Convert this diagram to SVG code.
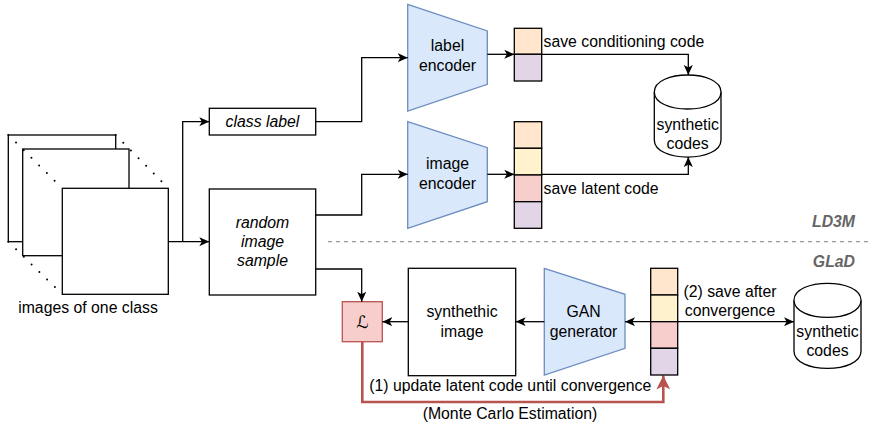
<svg xmlns="http://www.w3.org/2000/svg" width="870" height="425" viewBox="0 0 870 425">
  <style>
    text { font-family: "Liberation Sans", Arial, Helvetica, sans-serif; font-size: 15.8px; fill: #000; }
    .mid { text-anchor: middle; }
    .it { font-style: italic; }
    .tag { font-weight: bold; font-style: italic; fill: #666666; text-anchor: end; }
    .box { fill: #ffffff; stroke: #000; stroke-width: 1.3; }
    .enc { fill: #dae8fc; stroke: #6c8ebf; stroke-width: 1.3; }
    .cell { stroke: #000; stroke-width: 1.3; }
    .c1 { fill: #ffe6cc; }
    .c2 { fill: #fff2cc; }
    .c3 { fill: #f8cecc; }
    .c4 { fill: #e1d5e7; }
    .cyl { fill: #ffffff; stroke: #000; stroke-width: 1.3; }
    .edge { fill: none; stroke: #000; stroke-width: 1.3; }
    .edge-red { fill: none; stroke: #b85450; stroke-width: 2.6; }
    .dots { fill: none; stroke: #000; stroke-width: 2; stroke-linecap: round; stroke-dasharray: 0 10.84; }
  </style>
  <defs>
    <marker id="ah" viewBox="0 0 10 9" refX="10" refY="4.5" markerWidth="10" markerHeight="9" markerUnits="userSpaceOnUse" orient="auto-start-reverse">
      <path d="M0,0 L10,4.5 L0,9 L2.6,4.5 z" fill="#000"/>
    </marker>
    <marker id="ah-red" viewBox="0 0 14 14" refX="14" refY="7" markerWidth="14" markerHeight="14" markerUnits="userSpaceOnUse" orient="auto">
      <path d="M0,0 L14,7 L0,14 L3.6,7 z" fill="#b85450"/>
    </marker>
  </defs>

  <!-- stack of input images -->
  <g id="images">
    <rect class="box" x="8.3" y="135" width="107.4" height="106.7"/>
    <rect class="box" x="22.7" y="149" width="106.3" height="106.7"/>
    <rect class="box" x="62.3" y="188.3" width="106" height="106"/>
    <line class="dots" x1="8.3" y1="135" x2="62.3" y2="188.3"/>
    <line class="dots" x1="115.7" y1="135" x2="168.3" y2="188.3"/>
    <line class="dots" x1="8.3" y1="241.7" x2="62.3" y2="294.3"/>
    <text class="mid" x="88" y="313">images of one class</text>
  </g>

  <g id="class-label">
    <rect class="box" x="209.3" y="108.3" width="106.4" height="26.7"/>
    <text class="mid it" x="262.5" y="127">class label</text>
  </g>

  <g id="random-sample">
    <rect class="box" x="209.3" y="189" width="106.4" height="106"/>
    <text class="mid it" x="262.5" y="228">random</text>
    <text class="mid it" x="262.5" y="247">image</text>
    <text class="mid it" x="262.5" y="266">sample</text>
  </g>

  <g id="label-encoder">
    <path class="enc" d="M407.7,4.3 L487.3,31 L487.3,84.3 L407.7,111 Z"/>
    <text class="mid" x="447.5" y="50.5">label</text>
    <text class="mid" x="447.5" y="70.5">encoder</text>
  </g>

  <g id="image-encoder">
    <path class="enc" d="M407.7,121.7 L487.3,147.7 L487.3,201.7 L407.7,228.3 Z"/>
    <text class="mid" x="447.5" y="169">image</text>
    <text class="mid" x="447.5" y="189">encoder</text>
  </g>

  <g id="conditioning-code">
    <rect class="cell c1" x="514.3" y="28.3" width="27.4" height="26"/>
    <rect class="cell c4" x="514.3" y="54.3" width="27.4" height="26.7"/>
  </g>

  <g id="latent-code">
    <rect class="cell c1" x="514.3" y="121.7" width="27.4" height="26.6"/>
    <rect class="cell c2" x="514.3" y="148.3" width="27.4" height="26.7"/>
    <rect class="cell c3" x="514.3" y="175" width="27.4" height="26.7"/>
    <rect class="cell c4" x="514.3" y="201.7" width="27.4" height="26.6"/>
  </g>

  <g id="codes-ld3m">
    <path class="cyl" d="M654.3,92 C654.3,69.3 721,69.3 721,92 L721,140 C721,162.7 654.3,162.7 654.3,140 Z"/>
    <path class="cyl" d="M654.3,92 C654.3,114.7 721,114.7 721,92" fill="none"/>
    <text class="mid" x="687.7" y="130">synthetic</text>
    <text class="mid" x="687.7" y="149">codes</text>
  </g>

  <g id="loss">
    <rect x="342.3" y="301.7" width="40" height="40" fill="#f8cecc" stroke="#b85450" stroke-width="1.3"/>
    <text x="362.3" y="327.5" text-anchor="middle" style="font-family: 'DejaVu Serif', 'DejaVu Sans', serif; font-size: 17px;">ℒ</text>
  </g>

  <g id="synthetic-image">
    <rect class="box" x="408.3" y="268.3" width="107.4" height="107.4"/>
    <text class="mid" x="462" y="316.5">synthethic</text>
    <text class="mid" x="462" y="336.5">image</text>
  </g>

  <g id="gan-generator">
    <path class="enc" d="M544.3,268.3 L625,294.3 L625,348.3 L544.3,375 Z"/>
    <text class="mid" x="583.5" y="317">GAN</text>
    <text class="mid" x="583.5" y="337">generator</text>
  </g>

  <g id="connectors">
    <path class="edge" d="M168.3,241.7 H209.3" marker-end="url(#ah)"/>
    <path class="edge" d="M182.7,241.7 V121.7 H209.3" marker-end="url(#ah)"/>
    <path class="edge" d="M315.7,121.7 H361.7 V57.7 H407.7" marker-end="url(#ah)"/>
    <path class="edge" d="M487.3,54.3 H514.3" marker-end="url(#ah)"/>
    <path class="edge" d="M541.7,54.3 H688.3 V75" marker-end="url(#ah)"/>
    <path class="edge" d="M315.7,215 H361.7 V174.3 H407.7" marker-end="url(#ah)"/>
    <path class="edge" d="M487.3,174.3 H514.3" marker-end="url(#ah)"/>
    <path class="edge" d="M541.7,174.3 H688.3 V157" marker-end="url(#ah)"/>
    <path class="edge" d="M315.7,269 H361.7 V301.7" marker-end="url(#ah)"/>
    <path class="edge" d="M408.3,321.7 H382.3" marker-end="url(#ah)"/>
    <path class="edge" d="M544.3,321.7 H515.7" marker-end="url(#ah)"/>
    <path class="edge" d="M625,321.7 H794" marker-start="url(#ah)" marker-end="url(#ah)"/>
    <path class="edge-red" d="M362.3,341.7 V402 H663.3 V375.5" marker-end="url(#ah-red)"/>
    <text x="543.5" y="46.5">save conditioning code</text>
    <text x="543.5" y="193.5">save latent code</text>
    <text class="mid" x="730" y="297.3">(2) save after</text>
    <text class="mid" x="730" y="316">convergence</text>
    <text x="369.3" y="391">(1) update latent code until convergence</text>
    <text class="mid" x="510" y="419">(Monte Carlo Estimation)</text>
  </g>

  <g id="latent-code-glad">
    <rect class="cell c1" x="650.7" y="268.3" width="27" height="26.7"/>
    <rect class="cell c2" x="650.7" y="295" width="27" height="26.7"/>
    <rect class="cell c3" x="650.7" y="321.7" width="27" height="26.6"/>
    <rect class="cell c4" x="650.7" y="348.3" width="27" height="26.7"/>
  </g>

  <g id="codes-glad">
    <path class="cyl" d="M794,300.3 C794,277.6 861,277.6 861,300.3 L861,351.3 C861,374 794,374 794,351.3 Z"/>
    <path class="cyl" d="M794,300.3 C794,323 861,323 861,300.3" fill="none"/>
    <text class="mid" x="827.5" y="336.5">synthetic</text>
    <text class="mid" x="827.5" y="355.5">codes</text>
  </g>

  <!-- split between the two methods -->
  <g id="separator">
    <line x1="328" y1="241.7" x2="870" y2="241.7" stroke="#999999" stroke-width="1.3" stroke-dasharray="4 4"/>
    <text class="tag" x="855" y="227.3">LD3M</text>
    <text class="tag" x="855" y="267.3">GLaD</text>
  </g>
</svg>
